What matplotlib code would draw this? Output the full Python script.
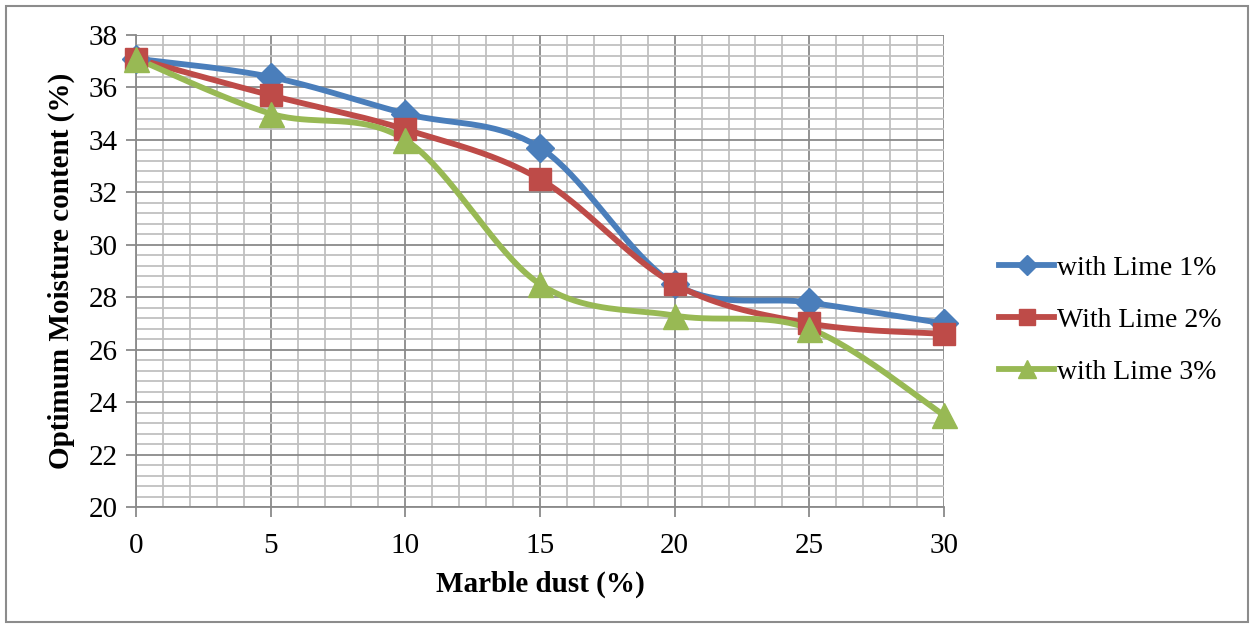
import numpy as np
import matplotlib.pyplot as plt
from matplotlib.ticker import MultipleLocator
from matplotlib.patches import Rectangle

marble = [0, 5, 10, 15, 20, 25, 30]
lime1 = [37.1, 36.4, 35.0, 33.7, 28.5, 27.8, 27.0]
lime2 = [37.1, 35.7, 34.4, 32.5, 28.5, 27.0, 26.6]
lime3 = [37.1, 35.0, 34.0, 28.5, 27.3, 26.8, 23.5]
labels = ["with Lime 1%", "With Lime 2%", "with Lime 3%"]

plt.rcParams['font.family'] = ['Liberation Serif', 'DejaVu Serif']


def smooth(x, y, n=40):
    # excel-like smoothed line (catmull-rom bezier)
    x = np.asarray(x, float)
    y = np.asarray(y, float)
    xs, ys = [], []
    for i in range(len(x) - 1):
        p0 = np.array([x[max(i - 1, 0)], y[max(i - 1, 0)]])
        p1 = np.array([x[i], y[i]])
        p2 = np.array([x[i + 1], y[i + 1]])
        p3 = np.array([x[min(i + 2, len(x) - 1)], y[min(i + 2, len(x) - 1)]])
        c1 = p1 + (p2 - p0) / 6
        c2 = p2 - (p3 - p1) / 6
        t = np.linspace(0, 1, n)[:, None]
        pts = ((1 - t) ** 3) * p1 + 3 * ((1 - t) ** 2) * t * c1 + 3 * (1 - t) * t ** 2 * c2 + t ** 3 * p2
        xs.extend(pts[:, 0])
        ys.extend(pts[:, 1])
    return xs, ys


fig = plt.figure(figsize=(12.55, 6.28), dpi=100)
ax = fig.add_axes([136 / 1255, 1 - 507 / 628, (944 - 136) / 1255, (507 - 35) / 628])

fig.patches.append(Rectangle((6 / 1255, 6 / 628), 1242 / 1255, 616 / 628, transform=fig.transFigure,
                             fill=False, edgecolor='#8c8c8c', linewidth=1.5))

colors = ['#4A7EBB', '#BE4B48', '#98B954']
markers = ['D', 's', '^']
msizes = [14, 16, 18]
series = [lime1, lime2, lime3]

for vals, c, m, ms, lab in zip(series, colors, markers, msizes, labels):
    sx, sy = smooth(marble, vals)
    ax.plot(sx, sy, color=c, lw=4.2, clip_on=False, zorder=3)
    ax.plot(marble, vals, linestyle='none', marker=m, ms=ms, color=c, clip_on=False, zorder=4)
    ax.plot([], [], color=c, lw=4.2, marker=m, ms=ms * 0.72, label=lab)

ax.set_xlim(0, 30)
ax.set_ylim(20, 38)
ax.xaxis.set_major_locator(MultipleLocator(5))
ax.xaxis.set_minor_locator(MultipleLocator(1))
ax.yaxis.set_major_locator(MultipleLocator(2))
ax.yaxis.set_minor_locator(MultipleLocator(0.4))
ax.grid(which='minor', color='#c0c0c0', lw=1.3)
ax.grid(which='major', color='#8a8a8a', lw=1.3)
ax.set_axisbelow(True)
for s in ax.spines.values():
    s.set_color('#8a8a8a')
    s.set_linewidth(1.3)
ax.spines['top'].set_visible(False)
ax.spines['right'].set_visible(False)
ax.tick_params(which='major', length=7, width=1.3, color='#8a8a8a', labelsize=21)
ax.tick_params(axis='x', pad=12)
ax.tick_params(axis='y', pad=6)
ax.tick_params(which='minor', length=0)

ax.set_xlabel("Marble dust (%)", fontsize=21, fontweight='bold', labelpad=8)
ax.set_ylabel("Optimum Moisture content (%)", fontsize=21, fontweight='bold', labelpad=10)

leg = ax.legend(loc='center left', bbox_to_anchor=(1.068, 0.396), frameon=False, fontsize=20,
                handlelength=2.0, labelspacing=0.95, handletextpad=0.1, borderaxespad=0,
                borderpad=0)

fig.savefig("out.png", dpi=100)
